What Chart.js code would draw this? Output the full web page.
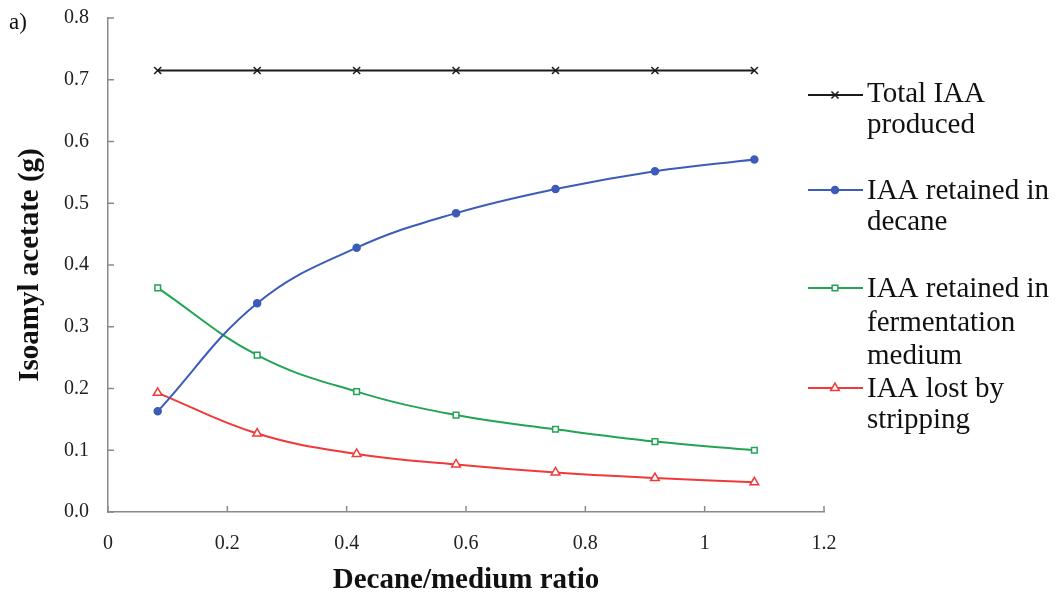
<!DOCTYPE html>
<html><head><meta charset="utf-8">
<script src="https://cdn.jsdelivr.net/npm/chart.js@4"></script>
<style>html,body{margin:0;padding:0;background:#fff}#wrap{width:1058px;height:592px;position:relative}</style>
</head><body><div id="wrap"><canvas id="c" width="1058" height="592"></canvas></div>
<script>
const ratios = [0.0833, 0.25, 0.4167, 0.5833, 0.75, 0.9167, 1.0833];
const totalIAA = [0.715, 0.715, 0.715, 0.715, 0.715, 0.715, 0.715];
const retainedDecane = [0.163, 0.338, 0.428, 0.484, 0.523, 0.552, 0.571];
const retainedMedium = [0.363, 0.254, 0.195, 0.157, 0.134, 0.114, 0.100];
const lostStripping = [0.193, 0.127, 0.094, 0.077, 0.064, 0.055, 0.048];
const seriesNames = [["Total IAA","produced"],["IAA retained in","decane"],["IAA retained in","fermentation","medium"],["IAA lost by","stripping"]];
const xTicks = [0, 0.2, 0.4, 0.6, 0.8, 1.0, 1.2];
const yTicks = [0, 0.1, 0.2, 0.3, 0.4, 0.5, 0.6, 0.7, 0.8];

const FONT = "'Liberation Serif', 'Times New Roman', serif";
const colors = ['#1a1a1a', '#3C5CB8', '#22A455', '#F03A3A'];
const styles = [
  {pointStyle:'crossRot', pointRadius:5, bg:'#1a1a1a'},
  {pointStyle:'circle', pointRadius:3.5, bg:colors[1]},
  {pointStyle:'rect', pointRadius:4, bg:'#fff'},
  {pointStyle:'triangle', pointRadius:5, bg:'#fff'}
];
const values = [totalIAA, retainedDecane, retainedMedium, lostStripping];

const datasets = values.map((vals, i) => ({
  label: seriesNames[i].join(' '),
  data: ratios.map((x, k) => ({x, y: vals[k]})),
  borderColor: colors[i],
  backgroundColor: styles[i].bg,
  pointBorderColor: colors[i],
  pointBackgroundColor: styles[i].bg,
  pointStyle: styles[i].pointStyle,
  pointRadius: styles[i].pointRadius,
  pointBorderWidth: 1.5,
  borderWidth: 2,
  tension: i === 0 ? 0 : 0.4,
  fill: false
}));

const inwardTicks = {
  id: 'inwardTicks',
  afterDraw(chart) {
    const ctx = chart.ctx, xs = chart.scales.x, ys = chart.scales.y;
    ctx.save();
    ctx.strokeStyle = '#8a8a8a';
    ctx.lineWidth = 1.5;
    ctx.beginPath();
    xTicks.forEach(v => { const px = xs.getPixelForValue(v); ctx.moveTo(px, ys.bottom); ctx.lineTo(px, ys.bottom - 6); });
    yTicks.forEach(v => { const py = ys.getPixelForValue(v); ctx.moveTo(xs.left, py); ctx.lineTo(xs.left + 6, py); });
    ctx.stroke();

    // legend
    const markerY = [95, 190, 288, 388];
    const baselines = [[102, 133], [199, 230], [297, 331, 364], [397, 428]];
    ctx.font = '29px ' + FONT;
    ctx.textBaseline = 'alphabetic';
    seriesNames.forEach((lines, i) => {
      const y = markerY[i];
      ctx.strokeStyle = colors[i];
      ctx.lineWidth = 2;
      ctx.beginPath(); ctx.moveTo(808, y); ctx.lineTo(863, y); ctx.stroke();
      ctx.lineWidth = 1.5;
      ctx.fillStyle = styles[i].bg;
      Chart.helpers.drawPoint(ctx, {pointStyle: styles[i].pointStyle, radius: styles[i].pointRadius, borderWidth:1.5, rotation:0}, 835, y);
      ctx.fillStyle = '#111';
      lines.forEach((t, k) => ctx.fillText(t, 867, baselines[i][k]));
    });
    // panel label
    ctx.font = '23px ' + FONT;
    ctx.fillText('a)', 9, 29);
    ctx.restore();
  }
};

new Chart(document.getElementById('c'), {
  type: 'line',
  data: { datasets },
  plugins: [inwardTicks],
  options: {
    responsive: false,
    animation: false,
    devicePixelRatio: 1,
    layout: { padding: { left: 13, right: 234, top: 18, bottom: 0 } },
    plugins: { legend: { display: false }, tooltip: { enabled: false } },
    scales: {
      x: {
        type: 'linear', min: 0, max: 1.2,
        afterBuildTicks: s => { s.ticks = xTicks.map(v => ({value: v})); },
        afterFit: s => { s.height = 80; s.paddingLeft = 0; s.paddingRight = 0; },
        grid: { display: false },
        border: { display: true, color: '#8a8a8a', width: 1.5 },
        ticks: { color: '#222', font: { family: FONT, size: 20 }, padding: 12, maxRotation: 0,
          callback: v => String(Math.round(v * 10) / 10) },
        title: { display: true, text: 'Decane/medium ratio', color: '#111',
          font: { family: FONT, size: 29, weight: 'bold', lineHeight: 0.8 }, padding: { top: 4, bottom: 0 } }
      },
      y: {
        type: 'linear', min: 0, max: 0.8,
        afterBuildTicks: s => { s.ticks = yTicks.map(v => ({value: v})); },
        afterFit: s => { s.width = 95; s.paddingTop = 0; s.paddingBottom = 0; },
        grid: { display: false },
        border: { display: true, color: '#8a8a8a', width: 1.5 },
        ticks: { color: '#222', font: { family: FONT, size: 20 }, padding: 11,
          callback: v => v.toFixed(1) },
        title: { display: true, text: 'Isoamyl acetate (g)', color: '#111',
          font: { family: FONT, size: 29, weight: 'bold' }, padding: { top: 0, bottom: 4 } }
      }
    }
  }
});
</script></body></html>
